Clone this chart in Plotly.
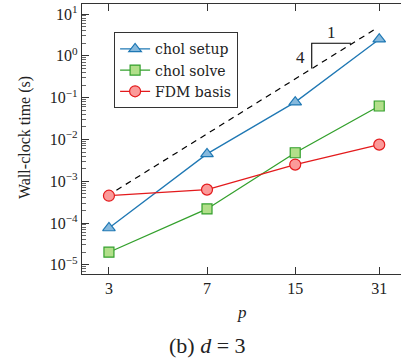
import plotly.graph_objects as go

# ---- data ----
p_vals = [3, 7, 15, 31]
chol_setup = [7.6e-5, 4.5e-3, 7.8e-2, 2.5]
chol_solve = [2.0e-5, 2.17e-4, 4.8e-3, 6.3e-2]
fdm_basis = [4.5e-4, 6.3e-4, 2.5e-3, 7.5e-3]

ref_x = [3.2, 30.2]
ref_y = [6.1e-4, 4.5]

tri_x = [24.3, 17.3, 17.3]
tri_y = [2.0, 2.0, 0.5]

x_tick_vals = [3, 7, 15, 31]
x_tick_text = ["3", "7", "15", "31"]
y_tick_vals = [1e-5, 1e-4, 1e-3, 1e-2, 1e-1, 1e0, 1e1]
y_tick_text = ["10<sup>−5</sup>", "10<sup>−4</sup>", "10<sup>−3</sup>", "10<sup>−2</sup>",
               "10<sup>−1</sup>", "10<sup>0</sup>", "10<sup>1</sup>"]

FONT = "Liberation Serif, Times New Roman, serif"
LFONT = "DejaVu Serif, serif"
AX = "#333333"

fig = go.Figure()

fig.add_trace(go.Scatter(x=ref_x, y=ref_y, mode="lines",
                         line=dict(color="black", width=1.2, dash="6px,5px"),
                         showlegend=False, hoverinfo="skip"))
fig.add_trace(go.Scatter(x=tri_x, y=tri_y, mode="lines",
                         line=dict(color="black", width=1.1),
                         showlegend=False, hoverinfo="skip"))

fig.add_trace(go.Scatter(x=p_vals, y=chol_setup, mode="lines+markers", name="chol setup",
                         line=dict(color="#1f78b4", width=1.3),
                         marker=dict(symbol="triangle-up", size=11, color="#86b9dd",
                                     line=dict(color="#1f78b4", width=1.2))))
fig.add_trace(go.Scatter(x=p_vals, y=chol_solve, mode="lines+markers", name="chol solve",
                         line=dict(color="#33a02c", width=1.3),
                         marker=dict(symbol="square", size=10, color="#b2df8a",
                                     line=dict(color="#33a02c", width=1.2))))
fig.add_trace(go.Scatter(x=p_vals, y=fdm_basis, mode="lines+markers", name="FDM basis",
                         line=dict(color="#e31a1c", width=1.3),
                         marker=dict(symbol="circle", size=11, color="#fb9a99",
                                     line=dict(color="#e31a1c", width=1.2))))

xr = [0.376, 1.573]
yr = [-5.22, 1.24]

fig.update_layout(
    width=401, height=361,
    margin=dict(l=82, r=0, t=4, b=87),
    paper_bgcolor="white", plot_bgcolor="white",
    font=dict(family=FONT, size=15, color="#222"),
    showlegend=True,
    legend=dict(x=0.1, y=0.896, xanchor="left", yanchor="top",
                bordercolor=AX, borderwidth=1.2, bgcolor="white",
                font=dict(family=LFONT, size=14, color="#222"),
                tracegroupgap=0, itemwidth=30),
    xaxis=dict(type="log", range=xr, tickvals=x_tick_vals, ticktext=x_tick_text,
               ticks="inside", ticklen=7, tickcolor=AX, tickwidth=1,
               showline=True, linecolor=AX, linewidth=1.3, mirror="ticks",
               showgrid=False, zeroline=False,
               tickfont=dict(family=FONT, size=16)),
    yaxis=dict(type="log", range=yr, tickvals=y_tick_vals, ticktext=y_tick_text,
               ticks="inside", ticklen=7, tickcolor=AX, tickwidth=1,
               minor=dict(ticks="inside", ticklen=4, tickcolor="#666", dtick="D1"),
               showline=True, linecolor=AX, linewidth=1.3, mirror=False,
               showgrid=False, zeroline=False,
               tickfont=dict(family=FONT, size=16)),
    yaxis2=dict(type="log", range=yr, overlaying="y", side="right", anchor="x",
                tickvals=y_tick_vals, ticks="inside", ticklen=5, tickcolor="#777",
                showticklabels=False, showline=False, showgrid=False, zeroline=False),
)

fig.add_annotation(text="Wall-clock time (s)", xref="paper", yref="paper",
                   x=0, y=0.5, xanchor="center", yanchor="middle",
                   xshift=-57, yshift=1, textangle=-90, showarrow=False,
                   font=dict(family=FONT, size=16, color="#222"))
fig.add_annotation(text="<i>p</i>", xref="paper", yref="paper",
                   x=0.5, y=0, xanchor="center", yanchor="middle",
                   yshift=-38, showarrow=False,
                   font=dict(family=FONT, size=17, color="#222"))
fig.add_annotation(text="(b) <i>d</i> = 3", xref="paper", yref="paper",
                   x=(207 - 82) / 319, y=0, xanchor="center", yanchor="middle",
                   yshift=-71, showarrow=False,
                   font=dict(family=FONT, size=22, color="#222"))
fig.add_annotation(text="1", xref="x", yref="y", x=1.313, y=0.57,
                   xanchor="center", yanchor="middle", showarrow=False,
                   font=dict(family=FONT, size=17, color="#222"))
fig.add_annotation(text="4", xref="x", yref="y", x=1.194, y=-0.03,
                   xanchor="center", yanchor="middle", showarrow=False,
                   font=dict(family=FONT, size=17, color="#222"))

fig.write_html("out.html", config={"displayModeBar": False},
               post_script="document.body.style.margin='0';document.body.style.overflow='hidden';")
